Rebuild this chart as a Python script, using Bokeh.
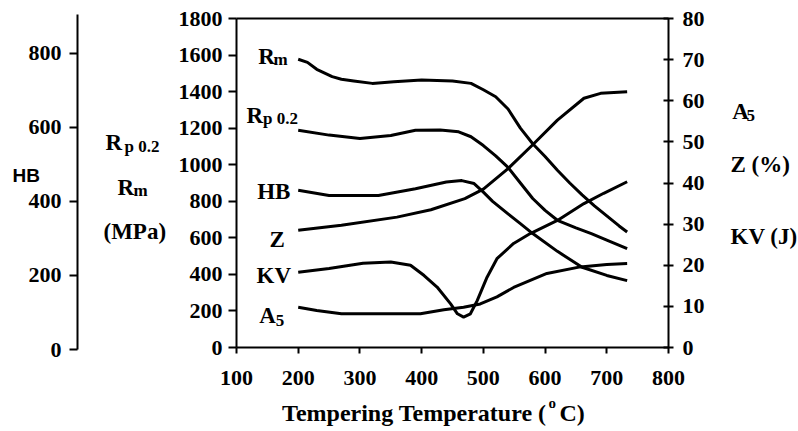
from bokeh.plotting import figure
from bokeh.models import Range1d, LinearAxis, FixedTicker, Label
from bokeh.embed import file_html
from bokeh.resources import INLINE

# ---------------- data ----------------
x_ticks = [100, 200, 300, 400, 500, 600, 700, 800]
mpa_ticks = [0, 200, 400, 600, 800, 1000, 1200, 1400, 1600, 1800]
hb_ticks = [0, 200, 400, 600, 800]
pct_ticks = [0, 10, 20, 30, 40, 50, 60, 70, 80]

rm_t = [200, 215, 230, 255, 270, 290, 320, 355, 400, 450, 480, 500, 520, 540, 560, 580, 600, 620, 640, 660, 680, 700, 720, 733]
rm_v = [1577, 1560, 1522, 1482, 1468, 1458, 1445, 1454, 1463, 1458, 1445, 1410, 1372, 1305, 1200, 1115, 1045, 970, 900, 835, 775, 720, 665, 632]

rp_t = [200, 250, 300, 350, 390, 430, 460, 480, 500, 520, 540, 560, 580, 600, 620, 650, 675, 700, 733]
rp_v = [1189, 1162, 1144, 1160, 1189, 1190, 1180, 1153, 1105, 1048, 985, 900, 815, 750, 696, 655, 623, 588, 541]

hb_t = [200, 250, 330, 390, 440, 465, 485, 500, 515, 540, 560, 580, 620, 660, 700, 733]
hb_v = [430, 416, 416, 434, 452, 456, 448, 425, 400, 366, 340, 313, 265, 222, 200, 186]

z_t = [200, 270, 360, 415, 470, 500, 540, 580, 620, 663, 690, 733]
z_v = [28.5, 29.7, 31.7, 33.5, 36.2, 38.5, 43.5, 49.3, 55.3, 60.6, 61.8, 62.2]

kv_t = [200, 250, 305, 350, 382, 404, 425, 447, 458, 468, 479, 490, 506, 522, 549, 576, 620, 663, 695, 733]
kv_v = [18.3, 19.2, 20.5, 20.8, 20.0, 17.5, 14.7, 10.6, 8.2, 7.4, 8.2, 11.4, 17.1, 21.6, 25.3, 27.7, 30.9, 35.0, 37.5, 40.3]

a5_t = [200, 230, 270, 333, 398, 436, 468, 495, 522, 549, 576, 603, 657, 700, 733]
a5_v = [9.8, 9.0, 8.2, 8.2, 8.2, 9.2, 9.8, 10.6, 12.3, 14.6, 16.3, 18.0, 19.6, 20.2, 20.4]

# ---------------- geometry (pixel layout of the reference) ----------------
W, H = 798, 431
FL, FR, FT, FB = 236, 668, 18, 347      # main plotting box
HB0, HB800 = 349, 52.7                  # outer HB scale
HB_X = 77                               # outer HB axis position


def dx(px):
    return 100 + (px - FL) / (FR - FL) * 700


def dy(py):
    return (FB - py) / (FB - FT) * 1800


def dhb(py):
    return (HB0 - py) / (HB0 - HB800) * 800


def dpct(py):
    return (FB - py) / (FB - FT) * 80


p = figure(width=W, height=H, output_backend="svg", toolbar_location=None,
           x_range=Range1d(dx(0), dx(W)), y_range=Range1d(dy(H), dy(0)),
           min_border=0)
p.extra_y_ranges = {"hb": Range1d(dhb(H), dhb(0)), "pct": Range1d(dpct(H), dpct(0))}
p.xgrid.grid_line_color = None
p.ygrid.grid_line_color = None
p.outline_line_color = None
p.background_fill_color = "white"
p.border_fill_color = "white"

SERIF = "Liberation Serif"
TICK_SIZE = "22px"


def style_axis(ax, tick_in, tick_out, standoff):
    ax.axis_line_color = "black"
    ax.axis_line_width = 2
    ax.major_tick_line_color = "black"
    ax.major_tick_line_width = 2
    ax.major_tick_in = tick_in
    ax.major_tick_out = tick_out
    ax.minor_tick_line_color = None
    ax.major_label_text_font = SERIF
    ax.major_label_text_font_style = "bold"
    ax.major_label_text_font_size = TICK_SIZE
    ax.major_label_text_color = "black"
    ax.major_label_standoff = standoff


xa = p.xaxis[0]
xa.ticker = FixedTicker(ticks=x_ticks)
xa.bounds = (100, 800)
xa.fixed_location = 0
style_axis(xa, 0, 6, 17)

ya = p.yaxis[0]
ya.ticker = FixedTicker(ticks=mpa_ticks)
ya.bounds = (0, 1800)
ya.fixed_location = 100
style_axis(ya, 0, 8, 6)

hb_axis = LinearAxis(y_range_name="hb", ticker=FixedTicker(ticks=hb_ticks),
                     bounds=(0, dhb(14)), fixed_location=dx(HB_X))
style_axis(hb_axis, 0, 8, 8)
p.add_layout(hb_axis, "left")

r_axis = LinearAxis(y_range_name="pct", ticker=FixedTicker(ticks=pct_ticks),
                    bounds=(0, 80), fixed_location=800)
style_axis(r_axis, 5, 5, 9)
p.add_layout(r_axis, "right")

top_axis = LinearAxis(ticker=FixedTicker(ticks=[]), bounds=(100, 800), fixed_location=1800)
style_axis(top_axis, 0, 0, 0)
top_axis.major_label_text_font_size = "0px"
p.add_layout(top_axis, "above")

# ---------------- curves ----------------
lw = 3
p.line(rm_t, rm_v, line_color="black", line_width=lw, line_join="round")
p.line(rp_t, rp_v, line_color="black", line_width=lw, line_join="round")
p.line(hb_t, hb_v, line_color="black", line_width=lw, line_join="round", y_range_name="hb")
p.line(z_t, z_v, line_color="black", line_width=lw, line_join="round", y_range_name="pct")
p.line(kv_t, kv_v, line_color="black", line_width=lw, line_join="round", y_range_name="pct")
p.line(a5_t, a5_v, line_color="black", line_width=lw, line_join="round", y_range_name="pct")


# ---------------- texts ----------------
SHIFT = -7


def txt(px, py, s, size="23px", font=SERIF, align="left"):
    p.add_layout(Label(x=dx(px), y=dy(py + SHIFT), text=s, text_font=font,
                       text_font_style="bold", text_font_size=size,
                       text_color="black", text_align=align,
                       text_baseline="alphabetic"))


SUB = "17px"
# curve labels
txt(257.7, 63, "R"); txt(273, 66, "m", SUB)
txt(246, 121.7, "R"); txt(262.5, 125, "p 0.2", SUB)
txt(256.7, 198, "HB")
txt(269, 246, "Z")
txt(256, 281.7, "KV")
txt(258.7, 321.7, "A"); txt(275.3, 326.7, "5", SUB)

# left axis titles
txt(12, 182, "HB", "19px", "Liberation Sans")
txt(105, 149.3, "R"); txt(124, 153, "p 0.2", SUB)
txt(117, 194, "R"); txt(133, 197, "m", SUB)
txt(103, 238, "(MPa)")

# right axis titles
txt(731.7, 118.3, "A"); txt(746, 122, "5", SUB)
txt(730, 171, "Z (%)")
txt(730, 243, "KV (J)")

# x axis title
txt(552, 419, "Tempering Temperature  (", "24px", align="right")
txt(548, 409, "o", "15px")
txt(559, 419, "C)", "24px")

open("out.html", "w").write(file_html(p, INLINE))
